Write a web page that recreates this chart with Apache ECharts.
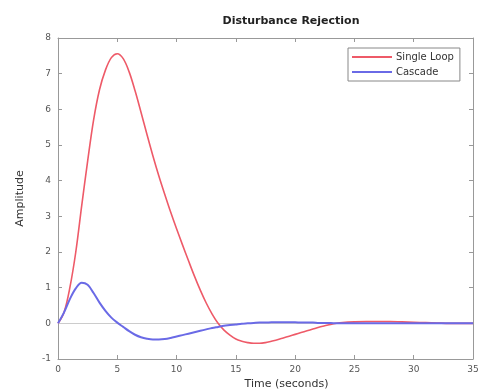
<!DOCTYPE html>
<html>
<head>
<meta charset="utf-8">
<script src="https://cdn.jsdelivr.net/npm/echarts@6/dist/echarts.min.js"></script>
<style>
  html, body {margin: 0; padding: 0; background: #fff;}
  #chart {width: 479px; height: 390px;}
</style>
</head>
<body>
<div id="chart"></div>
<script>
// time samples (seconds)
const times = [
  0, 0.5, 1, 1.5, 2, 2.5, 3, 3.5, 4, 4.5, 5, 5.5, 6, 6.5, 7, 7.5, 8, 8.5, 9, 9.5,
  10, 10.5, 11, 11.5, 12, 12.5, 13, 13.5, 14, 14.5, 15, 15.5, 16, 16.5, 17, 17.5,
  18, 18.5, 19, 19.5, 20, 20.5, 21, 21.5, 22, 22.5, 23, 23.5, 24,
  25, 26, 27, 28, 29, 30, 31, 32, 33, 34, 35
];
const singleLoop = [
  0, 0.3, 1.0, 2.0, 3.3, 4.55, 5.7, 6.55, 7.1, 7.45, 7.56, 7.42, 7.05, 6.52, 5.92, 5.3, 4.7, 4.14, 3.62, 3.12,
  2.65, 2.2, 1.76, 1.33, 0.93, 0.57, 0.26, 0.0, -0.19, -0.33, -0.44, -0.5, -0.54, -0.56, -0.56, -0.54,
  -0.5, -0.46, -0.41, -0.36, -0.31, -0.26, -0.21, -0.16, -0.11, -0.07, -0.03, 0.0, 0.02,
  0.04, 0.05, 0.05, 0.05, 0.04, 0.03, 0.02, 0.01, 0, 0, 0
];
const cascade = [
  0, 0.3, 0.68, 0.98, 1.14, 1.08, 0.85, 0.58, 0.35, 0.16, 0.02, -0.1, -0.22, -0.32, -0.39, -0.43, -0.45, -0.45, -0.44, -0.41,
  -0.37, -0.33, -0.29, -0.25, -0.21, -0.17, -0.13, -0.1, -0.07, -0.05, -0.03, -0.01, 0, 0.01, 0.02, 0.02,
  0.03, 0.03, 0.03, 0.03, 0.03, 0.02, 0.02, 0.02, 0.01, 0.01, 0.01, 0, 0,
  0, 0, 0, 0, 0, 0, 0, 0, 0, 0, 0
];
const xTicks = {min: 0, max: 35, interval: 5};
const yTicks = {min: -1, max: 8, interval: 1};

const pair = (vals) => times.map((t, i) => [t, vals[i]]);

const font = 'DejaVu Sans';
const axisLine = {show: true, onZero: false, lineStyle: {color: '#999', width: 1}};
const tick = {show: true, inside: true, length: 4, lineStyle: {color: '#999'}};
const label = {color: '#555', fontSize: 9, fontFamily: font};

let myChart = echarts.init(document.getElementById('chart'));
myChart.setOption({
  animation: false,
  title: {
    text: 'Disturbance Rejection',
    left: 286, top: 11, textAlign: 'center',
    textStyle: {fontSize: 11, fontWeight: 'bold', color: '#222', fontFamily: font}
  },
  legend: {
    orient: 'vertical',
    left: 348, top: 48,
    itemWidth: 40, itemHeight: 2, itemGap: 5,
    icon: 'rect',
    backgroundColor: '#fff',
    borderColor: '#888', borderWidth: 1, borderRadius: 0,
    padding: [4, 6, 4, 4],
    textStyle: {fontSize: 10, color: '#333', fontFamily: font, padding: [0, 0, 0, -1]},
    data: ['Single Loop', 'Cascade']
  },
  grid: {left: 58, top: 38, right: 6, bottom: 31, outerBoundsMode: 'none'},
  xAxis: [
    {
      type: 'value', ...xTicks,
      name: 'Time (seconds)', nameLocation: 'middle', nameGap: 17,
      nameTextStyle: {fontSize: 11, color: '#333', fontFamily: font, padding: [0, 0, 0, 42]},
      axisLine, axisTick: tick, axisLabel: {...label, margin: 6}, splitLine: {show: false}
    },
    {
      type: 'value', ...xTicks, position: 'top',
      axisLine, axisTick: tick, axisLabel: {show: false}, splitLine: {show: false}
    }
  ],
  yAxis: [
    {
      type: 'value', ...yTicks,
      name: 'Amplitude', nameLocation: 'middle', nameGap: 32, nameRotate: 90,
      nameTextStyle: {fontSize: 11, color: '#333', fontFamily: font},
      axisLine, axisTick: tick, axisLabel: {...label, margin: 7}, splitLine: {show: false}
    },
    {
      type: 'value', ...yTicks, position: 'right',
      axisLine, axisTick: tick, axisLabel: {show: false}, splitLine: {show: false}
    }
  ],
  series: [
    {
      name: 'Single Loop',
      type: 'line',
      data: pair(singleLoop),
      smooth: 0.35,
      showSymbol: false,
      color: '#ee5a68',
      lineStyle: {width: 1.6, color: '#ee5a68'},
      z: 3,
      markLine: {
        silent: true,
        symbol: 'none',
        label: {show: false},
        lineStyle: {color: '#cccccc', width: 1, type: 'solid'},
        data: [{yAxis: 0}],
        z: 1
      }
    },
    {
      name: 'Cascade',
      type: 'line',
      data: pair(cascade),
      smooth: 0.35,
      showSymbol: false,
      color: '#6a6ae6',
      lineStyle: {width: 2, color: '#6a6ae6'},
      z: 4
    }
  ]
});
</script>
</body>
</html>
